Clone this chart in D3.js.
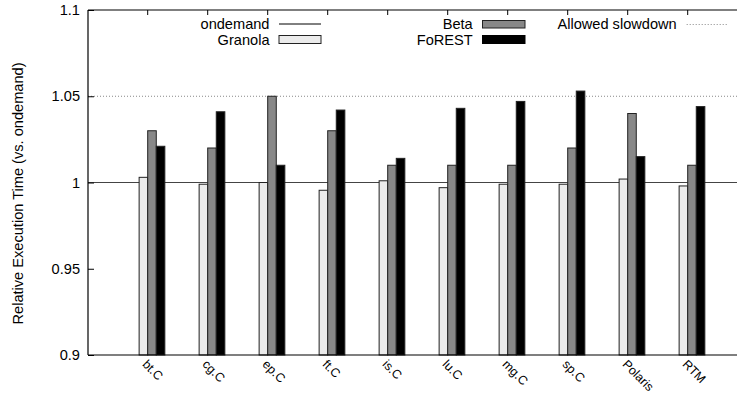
<!DOCTYPE html>
<html>
<head>
<meta charset="utf-8">
<script src="https://cdn.jsdelivr.net/npm/d3@7"></script>
<style>
  html, body { margin: 0; padding: 0; background: #fff; }
  svg { display: block; }
  text { font-family: "Liberation Sans", Arial, Helvetica, sans-serif; fill: #000; }
</style>
</head>
<body>
<svg id="chart" width="737" height="397"></svg>
<script>
// ---- data ----
const categories = ["bt.C", "cg.C", "ep.C", "ft.C", "is.C", "lu.C", "mg.C", "sp.C", "Polaris", "RTM"];
const granola = [1.003, 0.999, 1.000, 0.9955, 1.001, 0.997, 0.999, 0.999, 1.002, 0.998];
const beta    = [1.030, 1.020, 1.050, 1.030, 1.010, 1.010, 1.010, 1.020, 1.040, 1.010];
const forest  = [1.021, 1.041, 1.010, 1.042, 1.014, 1.043, 1.047, 1.053, 1.015, 1.044];
const ondemand = 1.0;
const allowedSlowdown = 1.05;
const yTicks = [0.9, 0.95, 1, 1.05, 1.1];
const yTickLabels = ["0.9", "0.95", "1", "1.05", "1.1"];
const seriesNames = ["ondemand", "Granola", "Beta", "FoREST"];

// ---- layout ----
const svg = d3.select("#chart");
const pLeft = 88, pTop = 10, pBottom = 355, pRight = 748;
const FS = "14.6px";

const y = d3.scaleLinear().domain([0.9, 1.1]).range([pBottom, pTop]);
const x = d3.scaleBand().domain(categories).range([117.7, 717.7]).padding(0);
const step = x.step();
const barW = step / 7;
const sub = d3.scaleBand().domain(seriesNames).range([-2 * barW, 2 * barW]).padding(0);

const fills = { Granola: "#ebebeb", Beta: "#888888", FoREST: "#000000" };
const data = { Granola: granola, Beta: beta, FoREST: forest };

// reference lines
svg.append("line")
  .attr("x1", pLeft).attr("x2", pRight)
  .attr("y1", y(ondemand)).attr("y2", y(ondemand))
  .attr("stroke", "#444").attr("stroke-width", 1.1);
svg.append("line")
  .attr("x1", pLeft).attr("x2", pRight)
  .attr("y1", y(allowedSlowdown)).attr("y2", y(allowedSlowdown))
  .attr("stroke", "#888").attr("stroke-width", 1).attr("stroke-dasharray", "1,2");

// bars
["Granola", "Beta", "FoREST"].forEach(s => {
  svg.append("g").selectAll("rect")
    .data(categories.map((c, i) => ({ c, v: data[s][i] })))
    .join("rect")
    .attr("x", d => x(d.c) + x.bandwidth() / 2 + sub(s))
    .attr("width", sub.bandwidth())
    .attr("y", d => y(d.v))
    .attr("height", d => y(0.9) - y(d.v))
    .attr("fill", fills[s])
    .attr("stroke", "#222")
    .attr("stroke-width", 1);
});

// frame
svg.append("line").attr("x1", pLeft).attr("x2", pRight).attr("y1", pTop).attr("y2", pTop)
  .attr("stroke", "#000").attr("stroke-width", 1.2);
svg.append("line").attr("x1", pLeft).attr("x2", pRight).attr("y1", pBottom).attr("y2", pBottom)
  .attr("stroke", "#000").attr("stroke-width", 1.2);
svg.append("line").attr("x1", pLeft).attr("x2", pLeft).attr("y1", pTop).attr("y2", pBottom)
  .attr("stroke", "#000").attr("stroke-width", 1.2);

// y axis
const yAxis = d3.axisLeft(y).tickValues(yTicks)
  .tickFormat((d, i) => yTickLabels[i]).tickSize(-6).tickPadding(8);
const gy = svg.append("g").attr("transform", `translate(${pLeft},0)`).call(yAxis);
gy.select(".domain").remove();
gy.selectAll(".tick line").attr("stroke", "#000");
gy.selectAll("text").style("font-size", FS).attr("font-family", null);

// top ticks (mirror)
const topAxis = d3.axisBottom(x).tickSize(5).tickFormat("");
const gt = svg.append("g").attr("transform", `translate(0,${pTop})`).call(topAxis);
gt.select(".domain").remove();
gt.selectAll(".tick line").attr("stroke", "#000");

// x axis labels
const xAxis = d3.axisBottom(x).tickSize(0);
const gx = svg.append("g").attr("transform", `translate(0,${pBottom})`).call(xAxis);
gx.select(".domain").remove();
gx.selectAll("text")
  .attr("font-family", null)
  .style("font-size", "12.5px")
  .attr("text-anchor", "start")
  .attr("dy", null).attr("y", 0)
  .attr("transform", "translate(-6,10) rotate(45)");

// y axis title
svg.append("text")
  .attr("transform", `translate(23,${(pTop + pBottom) / 2 + 11}) rotate(-90)`)
  .attr("text-anchor", "middle")
  .style("font-size", "14.6px")
  .text("Relative Execution Time (vs. ondemand)");

// legend
const leg = svg.append("g");
function legText(xr, yb, t) {
  leg.append("text").attr("x", xr).attr("y", yb).attr("text-anchor", "end").style("font-size", FS).text(t);
}
legText(269.5, 29, "ondemand");
leg.append("line").attr("x1", 279).attr("x2", 321).attr("y1", 24).attr("y2", 24).attr("stroke", "#000").attr("stroke-width", 1);
legText(269.5, 44.5, "Granola");
leg.append("rect").attr("x", 279).attr("y", 35.5).attr("width", 42).attr("height", 8).attr("fill", fills.Granola).attr("stroke", "#222");
legText(472.7, 29, "Beta");
leg.append("rect").attr("x", 482.5).attr("y", 20.5).attr("width", 42.5).attr("height", 7.5).attr("fill", fills.Beta).attr("stroke", "#222");
legText(472.7, 44.5, "FoREST");
leg.append("rect").attr("x", 482.5).attr("y", 35.5).attr("width", 42.5).attr("height", 8).attr("fill", fills.FoREST).attr("stroke", "#000");
legText(676.7, 29, "Allowed slowdown");
leg.append("line").attr("x1", 686.7).attr("x2", 728).attr("y1", 24.5).attr("y2", 24.5)
  .attr("stroke", "#888").attr("stroke-width", 1).attr("stroke-dasharray", "1,2");
</script>
</body>
</html>
